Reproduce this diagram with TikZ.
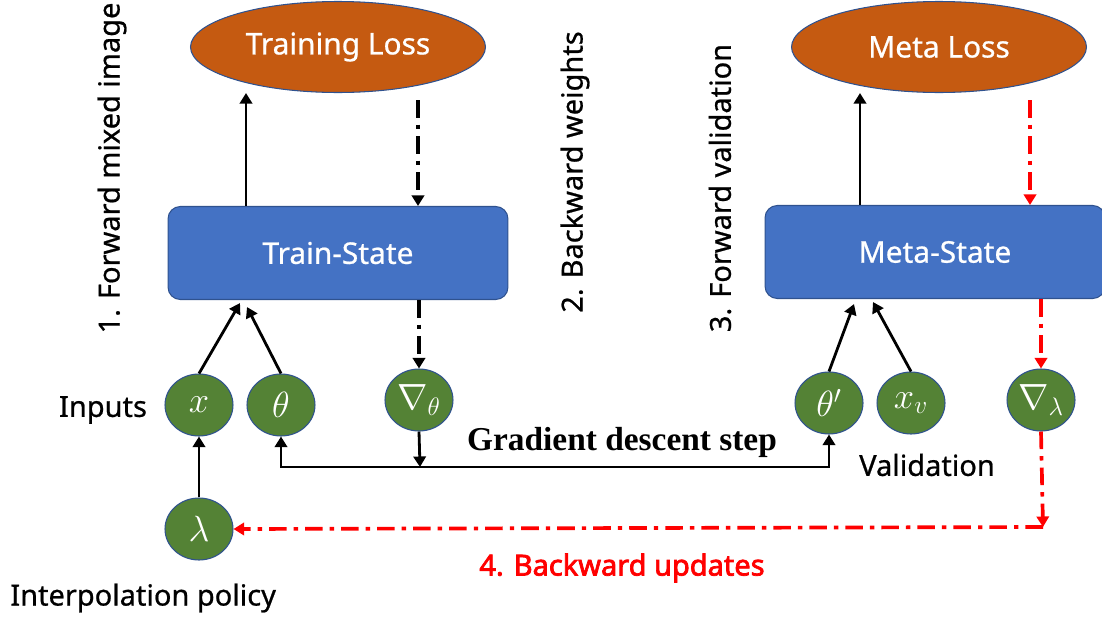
\documentclass[tikz,border=0pt]{standalone}
\usepackage{fontspec}
\setmainfont{Noto Sans}[FakeBold=0.7]
\newfontfamily\heavyfont{Noto Sans}[FakeBold=2.5]
\newfontfamily\gdfont{Liberation Serif}
\usetikzlibrary{shapes.geometric, arrows.meta, positioning, calc}
\definecolor{lossorange}{HTML}{C55A11}
\definecolor{stateblue}{HTML}{4472C4}
\definecolor{vargreen}{HTML}{548235}
\definecolor{edgeblue}{HTML}{2F528F}
\definecolor{newred}{rgb}{1,0,0}

\begin{document}
\begin{tikzpicture}[x=0.02cm, y=-0.02cm,
	lossnode/.style={ellipse, draw=edgeblue, line width=0.6pt, fill=lossorange, text=white, minimum width=5.9cm, minimum height=1.82cm, font=\fontsize{17}{20}\selectfont},
	statebox/.style={rectangle, rounded corners=7pt, draw=edgeblue, line width=0.6pt, fill=stateblue, text=white, minimum width=6.8cm, minimum height=1.86cm, font=\fontsize{17}{20}\selectfont},
	varnode/.style={ellipse, draw=edgeblue, line width=0.6pt, fill=vargreen, text=white, inner sep=0pt, minimum width=1.36cm, minimum height=1.24cm, font=\fontsize{20}{22}\selectfont},
	plaintext/.style={font=\fontsize{16.5}{19}\selectfont, inner sep=0pt},
	fwd/.style={line width=1.6pt, -{Triangle[width=7pt,length=6pt]}},
	bwd/.style={line width=2pt, dash pattern=on 10pt off 4pt on 2.5pt off 4pt, -{Triangle[width=7pt,length=6pt]}},
	redbwd/.style={bwd, color=newred, line width=2.1pt}]

	\useasboundingbox (0,0) rectangle (1102,619);

	% losses and states
	\node[lossnode] (trainloss) at (338,47) {Training Loss};
	\node[lossnode] (metaloss) at (939,47) {Meta Loss};
	\node[statebox] (train) at (338,253) {Train-State};
	\node[statebox] (meta) at (935,252) {Meta-State};

	% variables
	\node[varnode] (x) at (199,405) {$x$};
	\node[varnode] (theta) at (281,405) {$\theta$};
	\node[varnode] (gradtheta) at (419,400) {$\nabla_{\theta}$};
	\node[varnode] (thetap) at (829,403) {$\theta'$};
	\node[varnode] (xv) at (911,403) {$x_{v}$};
	\node[varnode] (gradlam) at (1041,400) {$\nabla_{\lambda}$};
	\node[varnode] (lam) at (199,529) {$\lambda$};

	% texts
	\node[plaintext] (inputs) at (103,410) {Inputs};
	\node[plaintext] (validation) at (927,465) {Validation};
	\node[plaintext, anchor=west] (policy) at (10,598) {Interpolation policy};
	\node[plaintext, font=\gdfont\bfseries\fontsize{19}{22}\selectfont] (gdstep) at (622,442) {Gradient descent step};
	\node[plaintext, font=\heavyfont\fontsize{16.5}{19}\selectfont, text=newred] (updates) at (622,568) {4. Backward updates};
	\node[plaintext, rotate=90] (step1) at (112,168) {1. Forward mixed image};
	\node[plaintext, rotate=90] (step2) at (575,172) {2. Backward weights};
	\node[plaintext, rotate=90] (step3) at (720,188) {3. Forward validation};

	% forward
	\draw[fwd] ($(train.north)+(-92,0)$) coordinate (tfw) -- (tfw |- trainloss.south);
	\draw[fwd] ($(meta.north)+(-75,0)$) coordinate (mfw) -- (mfw |- metaloss.south);
	\draw[fwd] (x.north) -- ($(train.south)+(-98,3)$);
	\draw[fwd] (theta.north) -- ($(train.south)+(-91,7)$);
	\draw[fwd] (thetap.north) -- ($(meta.south)+(-81,5)$);
	\draw[fwd] (xv.north) -- ($(meta.south)+(-62,3)$);
	\draw[fwd] (lam.north) -- (x.south);

	% backward
	\draw[bwd] ($(trainloss.south)+(80,7)$) coordinate (tbw) -- (tbw |- train.north);
	\draw[bwd] (gradtheta.north |- train.south) -- (gradtheta.north);
	\draw[redbwd] ($(metaloss.south)+(91,7)$) coordinate (mbw) -- (mbw |- meta.north);
	\draw[redbwd] (gradlam.north |- meta.south) -- (gradlam.north);
	\coordinate (updcorner) at ($(gradlam.south |- lam)+(2,-2)$);
	\draw[redbwd] (gradlam.south) -- (updcorner);
	\draw[redbwd] (updcorner) -- (lam.east);

	% gradient step
	\coordinate (gdmid) at (420,467);
	\draw[fwd] (gradtheta.south) -- (gdmid);
	\draw[fwd, {Triangle[width=7pt,length=6pt]}-{Triangle[width=7pt,length=6pt]}] (theta.south) -- (theta.south |- gdmid) -- (thetap.south |- gdmid) -- (thetap.south);
\end{tikzpicture}
\end{document}
